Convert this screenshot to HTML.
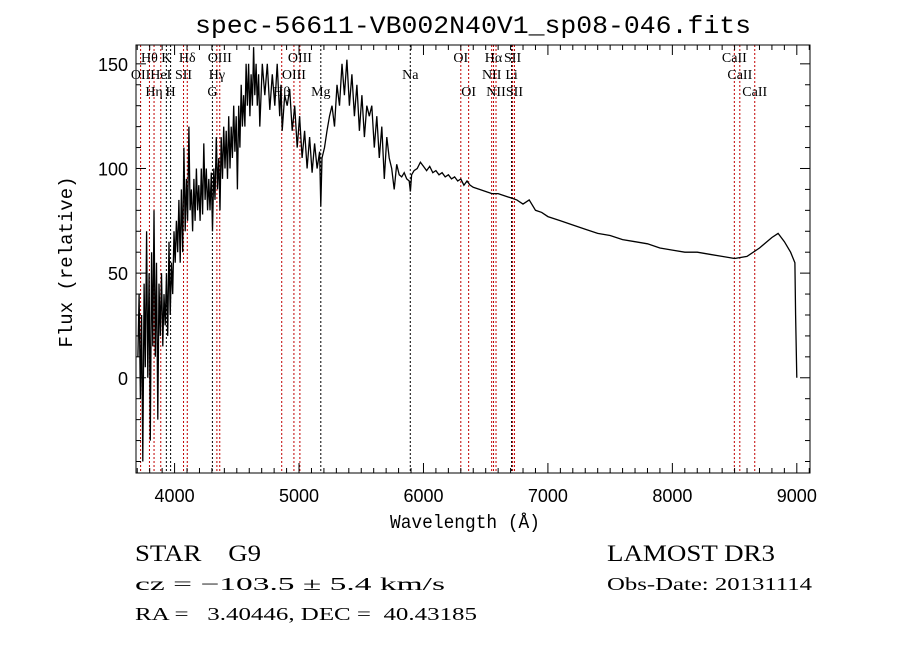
<!DOCTYPE html>
<html><head><meta charset="utf-8"><style>
html,body{margin:0;padding:0;background:#fff;}
svg{display:block;}
text{fill:#000;white-space:pre;}
</style></head><body>
<svg id="chart" width="900" height="649" viewBox="0 0 900 649" xml:space="preserve">
<rect width="900" height="649" fill="#fff"/>
<text x="195" y="33" font-size="25" textLength="556" lengthAdjust="spacingAndGlyphs" style="font-family:'Liberation Mono',monospace">spec-56611-VB002N40V1_sp08-046.fits</text>
<g id="lines"></g>
<g id="labels"></g>
<g id="series"></g>
<g id="axes"></g>
<text x="390" y="528" font-size="19" textLength="150" lengthAdjust="spacingAndGlyphs" style="font-family:'Liberation Mono',monospace">Wavelength (Å)</text>
<text transform="translate(72,262) rotate(-90)" font-size="19" text-anchor="middle" style="font-family:'Liberation Mono',monospace">Flux (relative)</text>
<text x="135" y="561" font-size="23" textLength="126" lengthAdjust="spacingAndGlyphs" style="font-family:'Liberation Serif',serif">STAR    G9</text>
<text x="607" y="561" font-size="23" textLength="168" lengthAdjust="spacingAndGlyphs" style="font-family:'Liberation Serif',serif">LAMOST DR3</text>
<text x="135" y="590" font-size="18" textLength="310" lengthAdjust="spacingAndGlyphs" style="font-family:'Liberation Serif',serif">cz = −103.5 ± 5.4 km/s</text>
<text x="607" y="590" font-size="18" textLength="205" lengthAdjust="spacingAndGlyphs" style="font-family:'Liberation Serif',serif">Obs-Date: 20131114</text>
<text x="135" y="620" font-size="18" textLength="342" lengthAdjust="spacingAndGlyphs" style="font-family:'Liberation Serif',serif">RA =   3.40446, DEC =  40.43185</text>
</svg>
<script>
const wave = [3705,3715,3725,3735,3745,3755,3765,3775,3785,3795,3805,3815,3825,3835,3845,3855,3865,3875,3885,3895,3905,3915,3925,3935,3945,3955,3965,3975,3985,3995,4005,4015,4025,4035,4045,4055,4065,4075,4085,4095,4105,4115,4125,4135,4145,4155,4165,4175,4185,4195,4205,4215,4225,4235,4245,4255,4265,4275,4285,4295,4305,4315,4325,4335,4345,4355,4365,4375,4385,4395,4405,4415,4425,4435,4445,4455,4465,4475,4485,4495,4505,4515,4525,4535,4545,4555,4565,4575,4585,4595,4605,4615,4625,4635,4645,4655,4665,4675,4685,4705,4725,4745,4765,4785,4805,4825,4845,4855,4865,4885,4905,4925,4945,4965,4985,5005,5025,5045,5065,5085,5105,5125,5145,5165,5175,5185,5205,5225,5245,5265,5285,5305,5325,5345,5365,5385,5405,5425,5445,5465,5485,5505,5525,5545,5565,5585,5605,5625,5645,5665,5685,5705,5725,5745,5765,5785,5805,5825,5845,5865,5885,5895,5905,5925,5950,5975,6000,6025,6050,6075,6100,6125,6150,6175,6200,6225,6250,6275,6300,6325,6350,6375,6400,6450,6500,6550,6600,6650,6700,6750,6800,6850,6900,6950,7000,7100,7200,7300,7400,7500,7600,7700,7800,7900,8000,8100,8200,8300,8400,8500,8600,8700,8800,8850,8900,8950,8985,8990,9000];
const flux = [10,40,-10,30,-40,45,5,70,0,50,-30,60,15,80,10,55,-20,45,20,50,15,40,25,50,20,65,30,55,40,70,55,75,60,85,55,90,60,110,70,95,75,120,80,90,70,95,75,100,80,92,75,100,78,112,85,100,80,95,80,98,70,100,85,115,90,105,80,115,95,120,100,118,95,125,100,120,105,130,108,125,90,130,110,140,120,135,120,150,130,150,125,145,130,158,135,150,130,145,120,150,135,150,128,145,130,150,125,140,118,135,130,138,118,130,110,125,105,118,100,115,98,112,100,108,82,105,110,118,125,130,120,140,130,150,135,152,130,145,125,140,118,135,115,130,125,130,110,125,105,120,95,115,105,100,90,102,97,96,98,95,94,89,97,99,100,103,
101,99,101,98,99,97,98,96,97,95,96,94,95,92,94,92,91,
90,89,88,88,87,86,85,83,85,80,79,77,
75,73,71,69,68,66,65,64,62,61,60,60,59,58,57,58,62,67,
69,65,60,55,30,0];
const xTicks = [4000,5000,6000,7000,8000,9000];
const yTicks = [0,50,100,150];
const lineWaves = [3727,3798,3835,3889,3934,3968,4072,4102,4304,4340,4363,4861,4959,5007,5175,5894,6300,6363,6548,6563,6583,6708,6716,6731,8498,8542,8662];
const lineNames = ["OII","Hθ","Hη","HeI","K","H","SII","Hδ","G","Hγ","OIII","Hβ","OIII","OIII","Mg","Na","OI","OI","NII","Hα","NII","Li","SII","SII","CaII","CaII","CaII"];
const lineRows = [1,0,2,1,0,2,1,0,2,1,0,2,1,0,2,1,0,2,1,0,2,1,0,2,0,1,2];
const lineColors = ["r","r","r","r","k","k","r","r","k","r","r","r","r","r","k","k","r","r","r","r","r","k","r","r","r","r","r"];

const L=136,T=45,R=810,B=473, X0=3690,X1=9106, Y0=-45.5,Y1=159;
const sx=w=>L+(w-X0)/(X1-X0)*(R-L);
const sy=f=>B-(f-Y0)/(Y1-Y0)*(B-T);
const NS="http://www.w3.org/2000/svg";
function mk(tag,attrs,parent){const e=document.createElementNS(NS,tag);for(const k in attrs)e.setAttribute(k,attrs[k]);parent.appendChild(e);return e;}
const gl=document.getElementById('lines'),glab=document.getElementById('labels'),gs=document.getElementById('series'),ga=document.getElementById('axes');

lineWaves.forEach((w,i)=>{
  const x=sx(w);
  const ln=mk('line',{x1:x,x2:x,y1:T,y2:B,stroke:lineColors[i]==='r'?'#c00000':'#000','stroke-width':1,'stroke-dasharray':'2,2'},gl);
  
  
  const t=mk('text',{x:x,y:62+lineRows[i]*17,'font-size':14,'text-anchor':'middle',style:"font-family:'Liberation Serif',serif"},glab);
  t.textContent=lineNames[i];
  
  
});

let d='';
const n=Math.min(wave.length,flux.length);
for(let i=0;i<n;i++){d+=(i?'L':'M')+sx(wave[i]).toFixed(1)+' '+sy(flux[i]).toFixed(1);}
const p=mk('path',{d:d,fill:'none',stroke:'#000','stroke-width':1.3},gs);



const box=mk('rect',{x:L,y:T,width:R-L,height:B-T,fill:'none',stroke:'#000','stroke-width':1},ga);


for(let w=3700;w<=9100;w+=100){
  const x=sx(w),maj=w%1000===0,len=maj?10:5;
  mk('line',{x1:x,x2:x,y1:B,y2:B-len,stroke:'#000'},ga);
  mk('line',{x1:x,x2:x,y1:T,y2:T+len,stroke:'#000'},ga);
}
for(let f=-40;f<=150;f+=10){
  const y=sy(f),maj=f%50===0,len=maj?10:5;
  mk('line',{x1:L,x2:L+len,y1:y,y2:y,stroke:'#000'},ga);
  mk('line',{x1:R,x2:R-len,y1:y,y2:y,stroke:'#000'},ga);
}
xTicks.forEach(v=>{
  const t=mk('text',{x:sx(v),y:502,'font-size':18,'text-anchor':'middle',style:"font-family:'Liberation Sans',sans-serif"},ga);
  t.textContent=v;
  
  
});
yTicks.forEach(v=>{
  const t=mk('text',{x:128,y:sy(v)+7,'font-size':18,'text-anchor':'end',style:"font-family:'Liberation Sans',sans-serif"},ga);
  t.textContent=v;
  
  
});
</script>
</body></html>
